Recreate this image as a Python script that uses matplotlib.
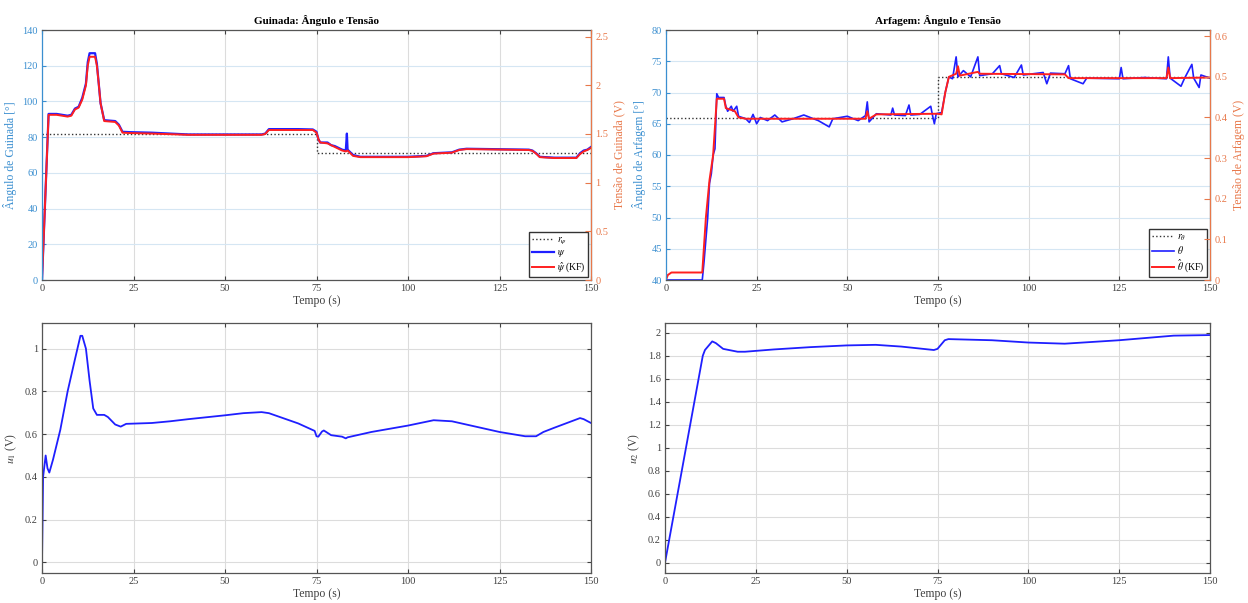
import numpy as np
import matplotlib
matplotlib.use("Agg")
from matplotlib import pyplot as plt

plt.rcParams['font.family'] = ['Liberation Serif', 'DejaVu Serif']
plt.rcParams['mathtext.fontset'] = 'stix'

# ---------------- dados ----------------
# Guinada (yaw)
t_ref_psi = [0, 75, 75, 150]
ref_psi = [82, 82, 71, 71]

t_psi = [0, 1.8, 4, 7, 8, 9, 10, 11, 12, 12.5, 13, 14.5, 15, 15.5, 16, 17, 20, 21, 22, 24,
         30, 40, 50, 60, 61, 62, 70, 74, 75, 75.5, 76, 78, 79, 80, 82, 83, 83.3, 83.5, 84,
         85, 87, 100, 105, 107, 112, 114, 116, 133, 134, 135, 136, 140, 146, 147, 148, 149, 150]
psi = [0, 93, 93, 92, 92.5, 96, 97, 102, 110, 122, 127, 127, 121, 110, 99, 89.5, 89, 87, 83, 82.8,
       82.5, 81.5, 81.5, 81.5, 82, 84.5, 84.5, 84.3, 83, 79, 77, 77, 75.5, 75, 73, 72.5, 82, 73, 72,
       70, 69, 69, 69.5, 71, 71.5, 73, 73.5, 73, 72.5, 71, 69, 68.5, 68.5, 71, 72.5, 73, 74.5]

t_psi_kf = [0, 1.8, 4, 7, 8, 9, 10, 11, 12, 12.5, 13, 14.5, 15, 15.5, 16, 17, 20, 21, 22, 24,
            30, 40, 50, 60, 61, 62, 70, 74, 75, 75.5, 76, 78, 79, 80, 82, 83, 83.5, 84,
            85, 87, 100, 105, 107, 112, 114, 116, 133, 134, 135, 136, 140, 146, 147, 148, 149, 150]
psi_kf = [0, 92.5, 92.5, 91.5, 92, 95.5, 96.5, 101, 109, 120, 125, 125, 120, 110, 99, 89, 88.5, 86.5, 82.5, 82.3,
          82, 81.3, 81.3, 81.3, 81.8, 84, 84, 84, 82.5, 79, 77, 76.5, 75.5, 74.5, 72.5, 72, 72.5, 71.5,
          69.5, 68.8, 68.8, 69.3, 70.8, 71.3, 72.8, 73.3, 72.8, 72.3, 70.8, 68.8, 68.3, 68.3, 70.5, 72, 72.8, 74]

# Arfagem (pitch)
t_ref_theta = [0, 75, 75, 150]
ref_theta = [66, 66, 72.5, 72.5]

t_theta = [0, 10, 10.5, 11.5, 12, 12.5, 13, 13.5, 14, 14.5, 16, 16.5, 17, 18, 18.5, 19.5, 20, 21, 22,
           23, 24, 25, 26, 28, 30, 32, 35, 38, 42, 45, 46, 50, 53, 55, 55.5, 56, 58, 62, 62.5, 63, 66,
           67, 67.5, 70, 73, 73.5, 74, 74.5, 76, 77, 78, 79, 80, 80.5, 82, 84, 86, 86.5, 90, 92, 92.5,
           96, 98, 98.5, 104, 105, 106, 110, 111, 111.5, 115, 116, 125, 125.5, 126, 132, 138, 138.5,
           139, 142, 143, 145, 145.5, 147, 147.5, 150]
theta = [40, 40, 43, 50, 55.5, 57, 60, 61, 69.8, 69.2, 69.2, 67.8, 67, 67.8, 67, 67.8, 66.2, 66, 65.8,
         65.2, 66.5, 65, 66, 65.5, 66.4, 65.3, 65.8, 66.4, 65.5, 64.5, 65.8, 66.2, 65.5, 66.3, 68.5, 65.3,
         66.6, 66.4, 67.5, 66.4, 66.3, 68, 66.4, 66.5, 67.8, 66.3, 65, 66.6, 66.8, 70, 72.5, 72.2, 75.7,
         72.5, 73.5, 72.5, 75.7, 72.7, 73, 74.3, 73, 72.4, 74.4, 72.8, 73.2, 71.4, 73.1, 73, 74.3, 72.2,
         71.4, 72.3, 72.2, 74, 72.2, 72.4, 72.2, 75.7, 72.3, 71, 72.3, 74.5, 72.3, 70.8, 72.8, 72.3]

t_theta_kf = [0, 0.5, 1.5, 10, 11, 12, 13, 14, 16, 16.5, 19, 20, 22, 55, 55.5, 56, 58, 75, 76, 77,
              78, 80, 80.5, 81, 86, 86.5, 110, 111, 138, 138.5, 139, 150]
theta_kf = [40, 40.8, 41.2, 41.2, 50, 56, 60, 69, 69, 67.5, 67, 66, 65.8, 65.8, 67, 65.8, 66.5, 66.6,
            66.5, 70, 72.5, 73, 74.2, 72.7, 73.3, 73, 72.9, 72.3, 72.3, 74, 72.3, 72.4]

# Tensoes de controle
t_u1 = [0, 0.3, 1, 1.5, 2, 3, 5, 7, 9, 10.5, 11, 12, 13, 14, 15, 17, 18, 20, 21.5, 23, 30, 35, 40,
        50, 55, 60, 62, 70, 74.5, 75, 75.5, 76.5, 77, 79, 82, 83, 83.5, 90, 95, 100, 107, 112, 125,
        132, 135, 137, 140, 147, 148, 150]
u1 = [0, 0.4, 0.5, 0.44, 0.42, 0.48, 0.62, 0.8, 0.95, 1.06, 1.06, 1.0, 0.85, 0.72, 0.69, 0.69, 0.68,
      0.645, 0.635, 0.648, 0.652, 0.66, 0.67, 0.688, 0.698, 0.703, 0.698, 0.65, 0.615, 0.59, 0.588,
      0.612, 0.617, 0.595, 0.588, 0.58, 0.585, 0.61, 0.625, 0.64, 0.665, 0.66, 0.61, 0.59, 0.59, 0.61,
      0.63, 0.675, 0.67, 0.652]

t_u2 = [0, 10.4, 11, 13, 14, 16, 20, 22, 30, 40, 50, 58, 65, 74, 75, 77, 78, 90, 100, 110, 125, 140, 150]
u2 = [0, 1.8, 1.85, 1.925, 1.91, 1.86, 1.835, 1.835, 1.855, 1.875, 1.89, 1.895, 1.88, 1.85, 1.86,
      1.935, 1.945, 1.935, 1.915, 1.905, 1.935, 1.975, 1.98]

x_ticks = [0, 25, 50, 75, 100, 125, 150]

# cores estilo MATLAB
C_ESQ = '#3b8fd0'
C_DIR = '#e8784a'
C_TXT = '#404040'


def estilo(ax, cor_y=C_TXT):
    ax.set_xlim(0, 150)
    ax.set_xticks(x_ticks)
    ax.tick_params(direction='in', length=3, labelsize=7.5, colors=C_TXT, top=True, pad=3)
    ax.tick_params(axis='y', colors=cor_y)
    for s in ax.spines.values():
        s.set_color('#555555')
        s.set_linewidth(0.9)
    ax.set_xlabel("Tempo (s)", fontsize=8.5, color=C_TXT, labelpad=1)


def topo(ax, titulo, ylim_esq, ylim_dir, ticks_dir, lab_esq, lab_dir):
    estilo(ax, C_ESQ)
    ax.set_ylim(*ylim_esq)
    ax.spines['left'].set_color(C_ESQ)
    ax.grid(axis='x', color='#dcdcdc', linewidth=0.8)
    ax.grid(axis='y', color='#d5e6f3', linewidth=0.8)
    ax.set_ylabel(lab_esq, color=C_ESQ, fontsize=8.5, labelpad=4)
    ax.set_title(titulo, fontsize=8, fontweight='bold', pad=4)
    ax2 = ax.twinx()
    ax2.set_ylim(*ylim_dir)
    ax2.set_yticks(ticks_dir)
    ax2.set_yticklabels([f"{v:g}" for v in ticks_dir])
    ax2.tick_params(direction='in', length=4, labelsize=7.5, colors=C_DIR, pad=3)
    ax2.spines['right'].set_color(C_DIR)
    ax2.spines['left'].set_visible(False)
    ax2.spines['top'].set_visible(False)
    ax2.spines['bottom'].set_visible(False)
    ax2.set_ylabel(lab_dir, color=C_DIR, fontsize=8.5, labelpad=4)
    return ax2


def legenda(ax, nomes):
    leg = ax.legend(nomes, loc='lower right', fontsize=7, fancybox=False, framealpha=1,
                    edgecolor='#333333', handlelength=2.2, borderpad=0.3, labelspacing=0.15,
                    handletextpad=0.3, borderaxespad=0.3)
    leg.get_frame().set_linewidth(1.0)


def main():
    fig = plt.figure(figsize=(12.48, 6.03), dpi=100)

    # Guinada
    ax1 = fig.add_axes([42/1248, 1-280/603, 549/1248, 250/603])
    ax1.plot(t_ref_psi, ref_psi, ':', color='#333333', linewidth=1.0)
    ax1.plot(t_psi, psi, color='#1f1fff', linewidth=1.6)
    ax1.plot(t_psi_kf, psi_kf, color='#ff1f1f', linewidth=1.4)
    ax1.set_yticks(np.arange(0, 141, 20))
    legenda(ax1, [r'$r_\psi$', r'$\psi$', r'$\hat{\psi}$ (KF)'])
    topo(ax1, "Guinada: Ângulo e Tensão", (0, 140), (0, 2.567),
         [0, 0.5, 1, 1.5, 2, 2.5], "Ângulo de Guinada [°]", "Tensão de Guinada (V)")

    # Arfagem
    ax3 = fig.add_axes([666/1248, 1-280/603, 544/1248, 250/603])
    ax3.plot(t_ref_theta, ref_theta, ':', color='#333333', linewidth=1.0)
    ax3.plot(t_theta, theta, color='#1f1fff', linewidth=1.2)
    ax3.plot(t_theta_kf, theta_kf, color='#ff1f1f', linewidth=1.4)
    ax3.set_yticks(np.arange(40, 81, 5))
    legenda(ax3, [r'$r_\theta$', r'$\theta$', r'$\hat{\theta}$ (KF)'])
    topo(ax3, "Arfagem: Ângulo e Tensão", (40, 80), (0, 0.615),
         [0, 0.1, 0.2, 0.3, 0.4, 0.5, 0.6], "Ângulo de Arfagem [°]", "Tensão de Arfagem (V)")

    # u1
    ax5 = fig.add_axes([42/1248, 1-573/603, 549/1248, 250/603])
    ax5.plot(t_u1, u1, color='#1f1fff', linewidth=1.3)
    ax5.set_ylim(-0.05, 1.12)
    ax5.set_yticks([0, 0.2, 0.4, 0.6, 0.8, 1])
    ax5.set_yticklabels(['0', '0.2', '0.4', '0.6', '0.8', '1'])
    estilo(ax5)
    ax5.tick_params(right=True)
    ax5.grid(color='#dcdcdc', linewidth=0.8)
    ax5.set_ylabel(r'$u_1$ (V)', fontsize=8.5, color=C_TXT, labelpad=4)

    # u2
    ax6 = fig.add_axes([665/1248, 1-573/603, 545/1248, 250/603])
    ax6.plot(t_u2, u2, color='#1f1fff', linewidth=1.3)
    ax6.set_ylim(-0.09, 2.085)
    ax6.set_yticks(np.arange(0, 2.01, 0.2))
    ax6.set_yticklabels([f"{v:g}" for v in np.round(np.arange(0, 2.01, 0.2), 1)])
    estilo(ax6)
    ax6.tick_params(right=True)
    ax6.grid(color='#dcdcdc', linewidth=0.8)
    ax6.set_ylabel(r'$u_2$ (V)', fontsize=8.5, color=C_TXT, labelpad=4)

    fig.savefig("out.png", dpi=100)


if __name__ == "__main__":
    main()
